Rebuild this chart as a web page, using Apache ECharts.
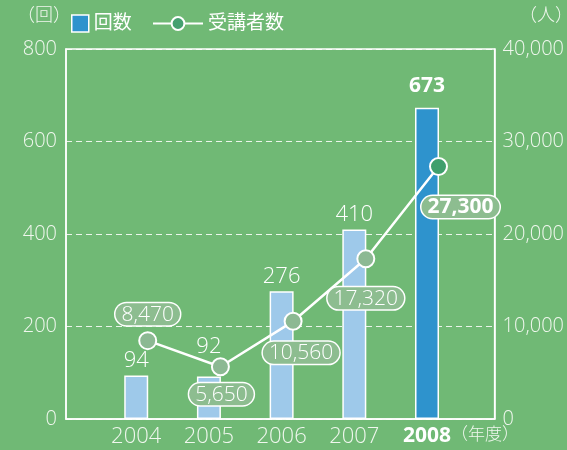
<!DOCTYPE html>
<html>
<head>
<meta charset="utf-8">
<script src="https://cdn.jsdelivr.net/npm/echarts@6/dist/echarts.min.js"></script>
<style>
html,body{margin:0;padding:0;background:#70b975;}
#main{width:567px;height:450px;}
</style>
</head>
<body>
<div id="main"></div>
<script>
// data
var years = ['2004', '2005', '2006', '2007', '2008'];
var kaisu = [94, 92, 276, 410, 673];          // 回数
var jukosha = [8470, 5650, 10560, 17320, 27300]; // 受講者数
var leftTicks = [0, 200, 400, 600, 800];
var rightTicks = [0, 10000, 20000, 30000, 40000];

var FONT = "'Open Sans','Noto Sans CJK JP',sans-serif";
var TXT = '#f0f7ee';

function fmt(n){ return String(n).replace(/\B(?=(\d{3})+(?!\d))/g, ','); }

var chart = echarts.init(document.getElementById('main'));

// bar data (last one dark, 92 label raised)
var barData = kaisu.map(function(v, i){
	var item = { value: [Number(years[i]), v] };
	if (i === years.length - 1) {
		item.itemStyle = { color: '#2e93cd' };
		item.label = { fontWeight: 'bold', fontSize: 21, distance: 11 };
	}
	if (i === 1) item.label = { distance: 19 };
	return item;
});

// line labels placement
var lblPos = [
	{ position: 'top', distance: 6, offset: [0, 0] },
	{ position: 'bottom', distance: 7, offset: [1, 0] },
	{ position: 'bottom', distance: 11, offset: [8, 0] },
	{ position: 'bottom', distance: 19, offset: [0, 0] },
	{ position: 'bottom', distance: 20, offset: [22, 0], fontWeight: 'bold' }
];
var lineData = jukosha.map(function(v, i){
	var item = { value: [Number(years[i]), v], label: lblPos[i] };
	if (i === years.length - 1) item.itemStyle = { color: '#3f9f6c' };
	return item;
});

chart.setOption({
	backgroundColor: '#70b975',
	textStyle: { fontFamily: FONT },
	grid: {
		left: 66, right: 70, top: 49, bottom: 31,
		show: true, borderColor: '#ffffff', borderWidth: 1.5
	},
	legend: [{
		left: 66, top: 9, itemWidth: 17, itemHeight: 17,
		textStyle: { color: '#ffffff', fontSize: 19, fontFamily: FONT },
		data: [{ name: '回数', icon: 'rect', itemStyle: { color: '#2e93cd', borderColor: '#ffffff', borderWidth: 1.5 } }]
	}, {
		left: 147, top: 9, itemWidth: 50, itemHeight: 16,
		textStyle: { color: '#ffffff', fontSize: 19, fontFamily: FONT },
		data: [{ name: '受講者数', itemStyle: { color: '#45a070', borderColor: '#ffffff', borderWidth: 2 } }]
	}],
	xAxis: [{
		type: 'value',
		min: 2003.034, max: 2008.93,
		axisLine: { show: true, lineStyle: { color: '#ffffff', width: 1.5 } },
		axisTick: { show: false },
		splitLine: { show: false },
		axisLabel: {
			customValues: years.map(Number),
			margin: 7,
			color: TXT, fontSize: 22, fontFamily: FONT, fontWeight: 300,
			formatter: function(v){
				return v === 2008 ? '{b|' + v + '}' : String(v);
			},
			rich: { b: { fontWeight: 'bold', fontSize: 21, color: '#ffffff', fontFamily: FONT } }
		}
	}, {
		type: 'value',
		min: 2002.876, max: 2008.772,
		show: false
	}],
	yAxis: [{
		type: 'value', min: 0, max: 800, interval: 200,
		axisLine: { show: true, lineStyle: { color: '#ffffff', width: 1.5 } },
		axisTick: { show: false },
		axisLabel: { color: TXT, fontSize: 20, fontFamily: FONT, fontWeight: 300, margin: 9,
			customValues: leftTicks },
		splitLine: { show: true, lineStyle: { color: 'rgba(255,255,255,0.85)', type: [6, 4], width: 1 } }
	}, {
		type: 'value', min: 0, max: 40000, interval: 10000,
		axisLine: { show: true, lineStyle: { color: '#ffffff', width: 1.5 } },
		axisTick: { show: false },
		axisLabel: { color: TXT, fontSize: 20, fontFamily: FONT, fontWeight: 300, margin: 8,
			customValues: rightTicks, formatter: function(v){ return fmt(v); } },
		splitLine: { show: false }
	}],
	graphic: [
		{ type: 'text', left: 17, top: 7, style: { text: '（回）', fill: TXT, font: '300 18px ' + FONT } },
		{ type: 'text', left: 519, top: 7, style: { text: '（人）', fill: TXT, font: '300 18px ' + FONT } },
		{ type: 'text', left: 451, top: 427, style: { text: '（年度）', fill: TXT, font: '300 17px ' + FONT } }
	],
	series: [{
		name: '回数',
		type: 'bar',
		xAxisIndex: 0, yAxisIndex: 0,
		barWidth: 24,
		itemStyle: { color: '#9ec9ea', borderColor: '#ffffff', borderWidth: 1.5 },
		label: {
			show: true, position: 'top', distance: 4,
			color: '#ffffff', fontSize: 22, fontFamily: FONT, fontWeight: 300,
			formatter: function(p){ return p.value[1]; }
		},
		data: barData,
		z: 2
	}, {
		name: '受講者数',
		type: 'line',
		xAxisIndex: 1, yAxisIndex: 1,
		symbol: 'circle', symbolSize: 17,
		lineStyle: { color: '#ffffff', width: 2.5 },
		itemStyle: { color: '#8cb993', borderColor: '#ffffff', borderWidth: 2 },
		label: {
			show: true,
			color: '#ffffff', fontSize: 21, fontFamily: FONT, fontWeight: 300,
			lineHeight: 21,
			backgroundColor: '#8dbd90', borderColor: '#ffffff', borderWidth: 1.5,
			borderRadius: 12, padding: [1, 6, 0, 6],
			formatter: function(p){ return fmt(p.value[1]); }
		},
		data: lineData,
		z: 3
	}]
});
</script>
</body>
</html>
